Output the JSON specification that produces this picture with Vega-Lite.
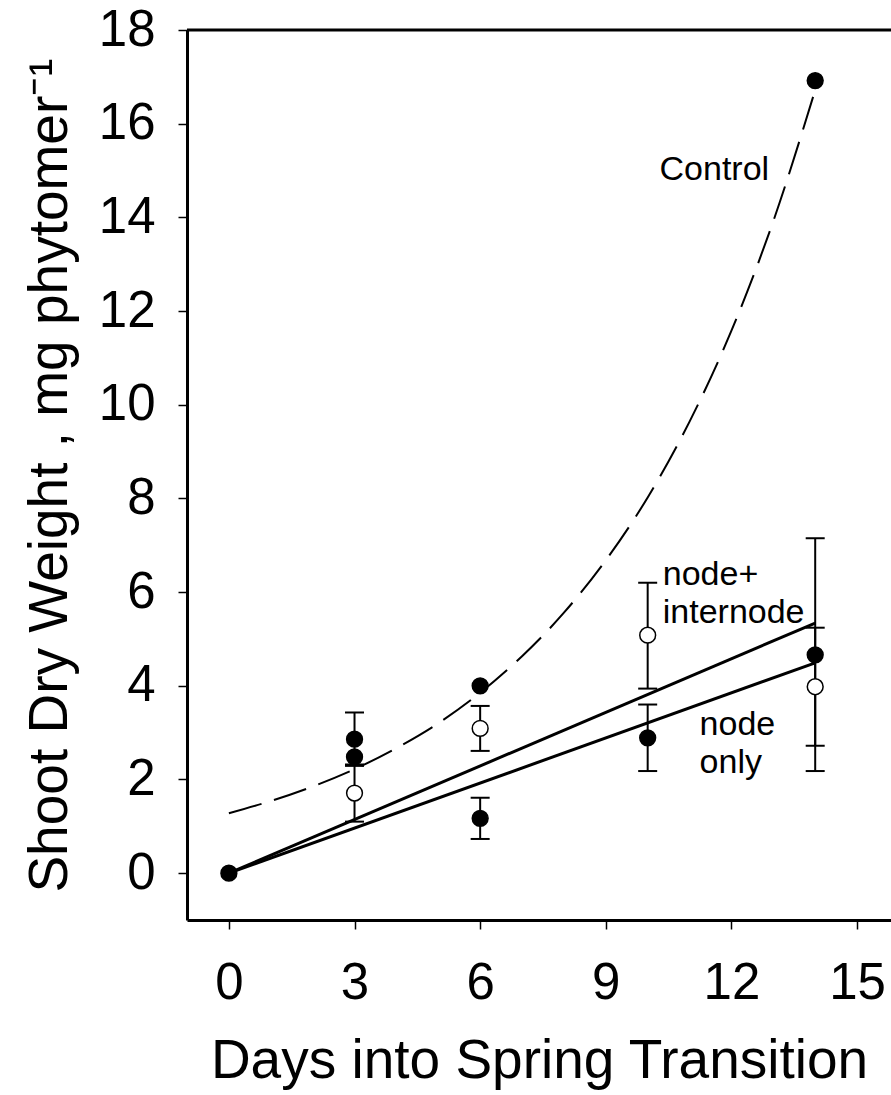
{
  "$schema": "https://vega.github.io/schema/vega-lite/v6.json",
  "width": 704,
  "height": 890,
  "autosize": "none",
  "padding": {"left": 187, "top": 30, "right": 0, "bottom": 175},
  "background": "white",
  "config": {
    "view": {"stroke": null},
    "font": "Liberation Sans",
    "axis": {
      "grid": false,
      "domainColor": "black",
      "domainWidth": 3,
      "tickColor": "black",
      "tickWidth": 1.5,
      "labelColor": "black",
      "titleColor": "black",
      "labelFont": "Liberation Sans",
      "titleFont": "Liberation Sans",
      "labelFontSize": 51,
      "titleFontSize": 55,
      "titleFontWeight": "normal"
    }
  },
  "datasets": {
    "points": [
      {"day": 0, "w": 0, "series": "start", "style": "filled"},
      {"day": 3, "w": 2.86, "lo": 2.29, "hi": 3.43, "series": "node only", "style": "filled"},
      {"day": 6, "w": 1.17, "lo": 0.73, "hi": 1.61, "series": "node only", "style": "filled"},
      {"day": 10, "w": 2.89, "lo": 2.18, "hi": 3.6, "series": "node only", "style": "filled"},
      {"day": 14, "w": 4.66, "lo": 2.18, "hi": 7.15, "series": "node only", "style": "filled"},
      {"day": 3, "w": 1.71, "lo": 1.1, "hi": 2.32, "series": "node+internode", "style": "open"},
      {"day": 6, "w": 3.09, "lo": 2.61, "hi": 3.57, "series": "node+internode", "style": "open"},
      {"day": 10, "w": 5.08, "lo": 3.94, "hi": 6.2, "series": "node+internode", "style": "open"},
      {"day": 14, "w": 3.98, "lo": 2.72, "hi": 5.24, "series": "node+internode", "style": "open"},
      {"day": 3, "w": 2.48, "series": "Control", "style": "filled"},
      {"day": 6, "w": 4.0, "series": "Control", "style": "filled"},
      {"day": 14, "w": 16.92, "series": "Control", "style": "filled"}
    ],
    "curve": [
      {"day": 0, "w": 1.28},
      {"day": 1, "w": 1.54},
      {"day": 2, "w": 1.85},
      {"day": 3, "w": 2.22},
      {"day": 4, "w": 2.67},
      {"day": 5, "w": 3.2},
      {"day": 6, "w": 3.85},
      {"day": 7, "w": 4.63},
      {"day": 8, "w": 5.56},
      {"day": 9, "w": 6.68},
      {"day": 10, "w": 8.02},
      {"day": 11, "w": 9.64},
      {"day": 12, "w": 11.58},
      {"day": 13, "w": 13.92},
      {"day": 14, "w": 16.72}
    ],
    "fits": [
      {"series": "node+internode", "day": 0, "w": 0},
      {"series": "node+internode", "day": 14, "w": 5.34},
      {"series": "node only", "day": 0, "w": 0},
      {"series": "node only", "day": 14, "w": 4.49}
    ],
    "labelsRight": [
      {"day": 12.9, "w": 14.79, "text": "Control"}
    ],
    "labelsLeft": [
      {"day": 10.36, "w": 6.15, "text": "node+"},
      {"day": 10.36, "w": 5.34, "text": "internode"},
      {"day": 11.24, "w": 2.95, "text": "node"},
      {"day": 11.24, "w": 2.13, "text": "only"}
    ],
    "frame": [{"w": 18}]
  },
  "encoding": {
    "x": {
      "field": "day", "type": "quantitative",
      "scale": {"domain": [-1, 15.81], "nice": false, "zero": false},
      "axis": {"values": [0, 3, 6, 9, 12, 15], "tickSize": 9, "labelPadding": 29, "title": "Days into Spring Transition", "titlePadding": 26}
    },
    "y": {
      "field": "w", "type": "quantitative",
      "scale": {"domain": [-1, 18], "nice": false, "zero": false},
      "axis": {"values": [0, 2, 4, 6, 8, 10, 12, 14, 16, 18], "tickSize": 9, "labelPadding": 23, "title": "Shoot Dry Weight , mg phytomer⁻¹", "titlePadding": 20}
    }
  },
  "layer": [
    {
      "data": {"name": "frame"},
      "mark": {"type": "rule", "color": "black", "strokeWidth": 3},
      "encoding": {"x": null}
    },
    {
      "data": {"name": "curve"},
      "mark": {"type": "line", "color": "black", "strokeWidth": 2, "strokeDash": [34, 13], "interpolate": "monotone"}
    },
    {
      "data": {"name": "fits"},
      "mark": {"type": "line", "color": "black", "strokeWidth": 3},
      "encoding": {"detail": {"field": "series"}}
    },
    {
      "data": {"name": "points"},
      "transform": [{"filter": "isValid(datum.lo)"}],
      "mark": {"type": "rule", "color": "black", "strokeWidth": 2, "opacity": 1},
      "encoding": {"y": {"field": "lo", "type": "quantitative"}, "y2": {"field": "hi"}}
    },
    {
      "data": {"name": "points"},
      "transform": [{"filter": "isValid(datum.lo)"}],
      "mark": {"type": "tick", "orient": "horizontal", "color": "black", "size": 19, "thickness": 2, "opacity": 1},
      "encoding": {"y": {"field": "lo", "type": "quantitative"}}
    },
    {
      "data": {"name": "points"},
      "transform": [{"filter": "isValid(datum.hi)"}],
      "mark": {"type": "tick", "orient": "horizontal", "color": "black", "size": 19, "thickness": 2, "opacity": 1},
      "encoding": {"y": {"field": "hi", "type": "quantitative"}}
    },
    {
      "data": {"name": "points"},
      "mark": {"type": "point", "shape": "circle", "size": 250, "stroke": "black", "strokeWidth": 1.5, "filled": true, "opacity": 1},
      "encoding": {
        "fill": {"field": "style", "type": "nominal", "scale": {"domain": ["filled", "open"], "range": ["black", "white"]}, "legend": null}
      }
    },
    {
      "data": {"name": "labelsRight"},
      "mark": {"type": "text", "fontSize": 34, "font": "Liberation Sans", "color": "black", "baseline": "alphabetic", "align": "right"},
      "encoding": {"text": {"field": "text"}}
    },
    {
      "data": {"name": "labelsLeft"},
      "mark": {"type": "text", "fontSize": 34, "font": "Liberation Sans", "color": "black", "baseline": "alphabetic", "align": "left"},
      "encoding": {"text": {"field": "text"}}
    }
  ]
}
